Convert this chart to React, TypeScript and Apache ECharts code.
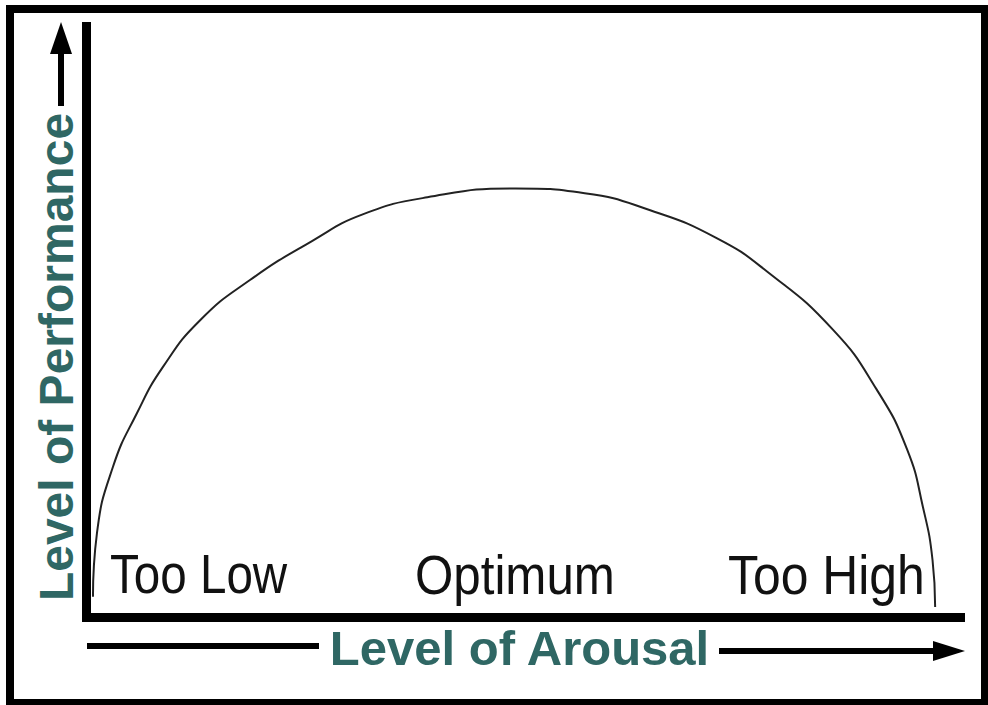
import React, { useEffect, useRef } from "react";
import * as echarts from "echarts";

// Curve: arousal (x, 0-100) vs performance (y, 0-100)
const arousal = [0.74, 1.2, 3.03, 5.78, 8.75, 13.0, 18.7, 25.8, 31.6, 39.0, 49.1, 57.0, 64.5, 72.1, 77.9, 85.4, 90.4, 93.9, 95.7, 96.8, 97.1];
const performance = [3.5, 14.3, 25.5, 34.6, 42.4, 50.3, 57.1, 63.7, 68.2, 71.1, 72.6, 71.8, 68.9, 64.2, 58.5, 48.7, 38.6, 28.4, 18.7, 9.73, 1.78];

const zoneLabels = ["Too Low", "Optimum", "Too High"];
const xTitle = "Level of Arousal";
const yTitle = "Level of Performance";

const TEAL = "#2f6764";

export default function App() {
  const ref = useRef<HTMLDivElement>(null);
  useEffect(() => {
    if (!ref.current) return;
    const chart = echarts.init(ref.current, undefined, { renderer: "svg" });
    const zoneX = [110, 415, 728];
    const zoneScale = [0.85, 0.88, 0.89];
    chart.setOption({
      animation: false,
      backgroundColor: "#ffffff",
      grid: { left: 86.5, right: 27.5, top: 26.5, bottom: 87.5 },
      xAxis: {
        type: "value",
        min: 0,
        max: 100,
        axisLine: { show: true, lineStyle: { color: "#000", width: 9, cap: "square" } },
        axisTick: { show: false },
        axisLabel: { show: false },
        splitLine: { show: false },
      },
      yAxis: {
        type: "value",
        min: 0,
        max: 100,
        axisLine: { show: true, lineStyle: { color: "#000", width: 9, cap: "square" } },
        axisTick: { show: false },
        axisLabel: { show: false },
        splitLine: { show: false },
      },
      series: [
        {
          type: "line",
          data: arousal.map((x, i) => [x, performance[i]]),
          smooth: 0.5,
          symbol: "none",
          lineStyle: { color: "#222", width: 2 },
        },
      ],
      graphic: [
        {
          type: "rect",
          shape: { x: 10, y: 9, width: 975, height: 694 },
          style: { fill: "none", stroke: "#000", lineWidth: 8 },
          silent: true,
        },
        ...zoneLabels.map((t, i) => ({
          type: "text",
          x: zoneX[i],
          y: 574,
          scaleX: zoneScale[i],
          style: {
            text: t,
            fill: "#111",
            font: '56px "Liberation Sans", sans-serif',
            align: "left",
            verticalAlign: "middle",
          },
        })),
        {
          type: "text",
          x: 519.5,
          y: 648,
          style: {
            text: xTitle,
            fill: TEAL,
            font: 'bold 49px "Liberation Sans", sans-serif',
            align: "center",
            verticalAlign: "middle",
          },
        },
        {
          type: "text",
          x: 56,
          y: 357,
          rotation: Math.PI / 2,
          style: {
            text: yTitle,
            fill: TEAL,
            font: 'bold 48px "Liberation Sans", sans-serif',
            align: "center",
            verticalAlign: "middle",
          },
        },
        // y-axis title arrow
        { type: "rect", shape: { x: 58, y: 50, width: 6, height: 56 }, style: { fill: "#000" } },
        { type: "polygon", shape: { points: [[61, 22], [50, 54], [72, 54]] }, style: { fill: "#000" } },
        // x-axis title arrow
        { type: "rect", shape: { x: 87, y: 643, width: 232, height: 6 }, style: { fill: "#000" } },
        { type: "rect", shape: { x: 719, y: 648, width: 218, height: 6 }, style: { fill: "#000" } },
        { type: "polygon", shape: { points: [[933, 641], [965, 651], [933, 661]] }, style: { fill: "#000" } },
      ],
    });
    return () => chart.dispose();
  }, []);
  return (
    <div
      ref={ref}
      style={{ position: "absolute", left: 0, top: 0, width: 988, height: 705 }}
    />
  );
}
